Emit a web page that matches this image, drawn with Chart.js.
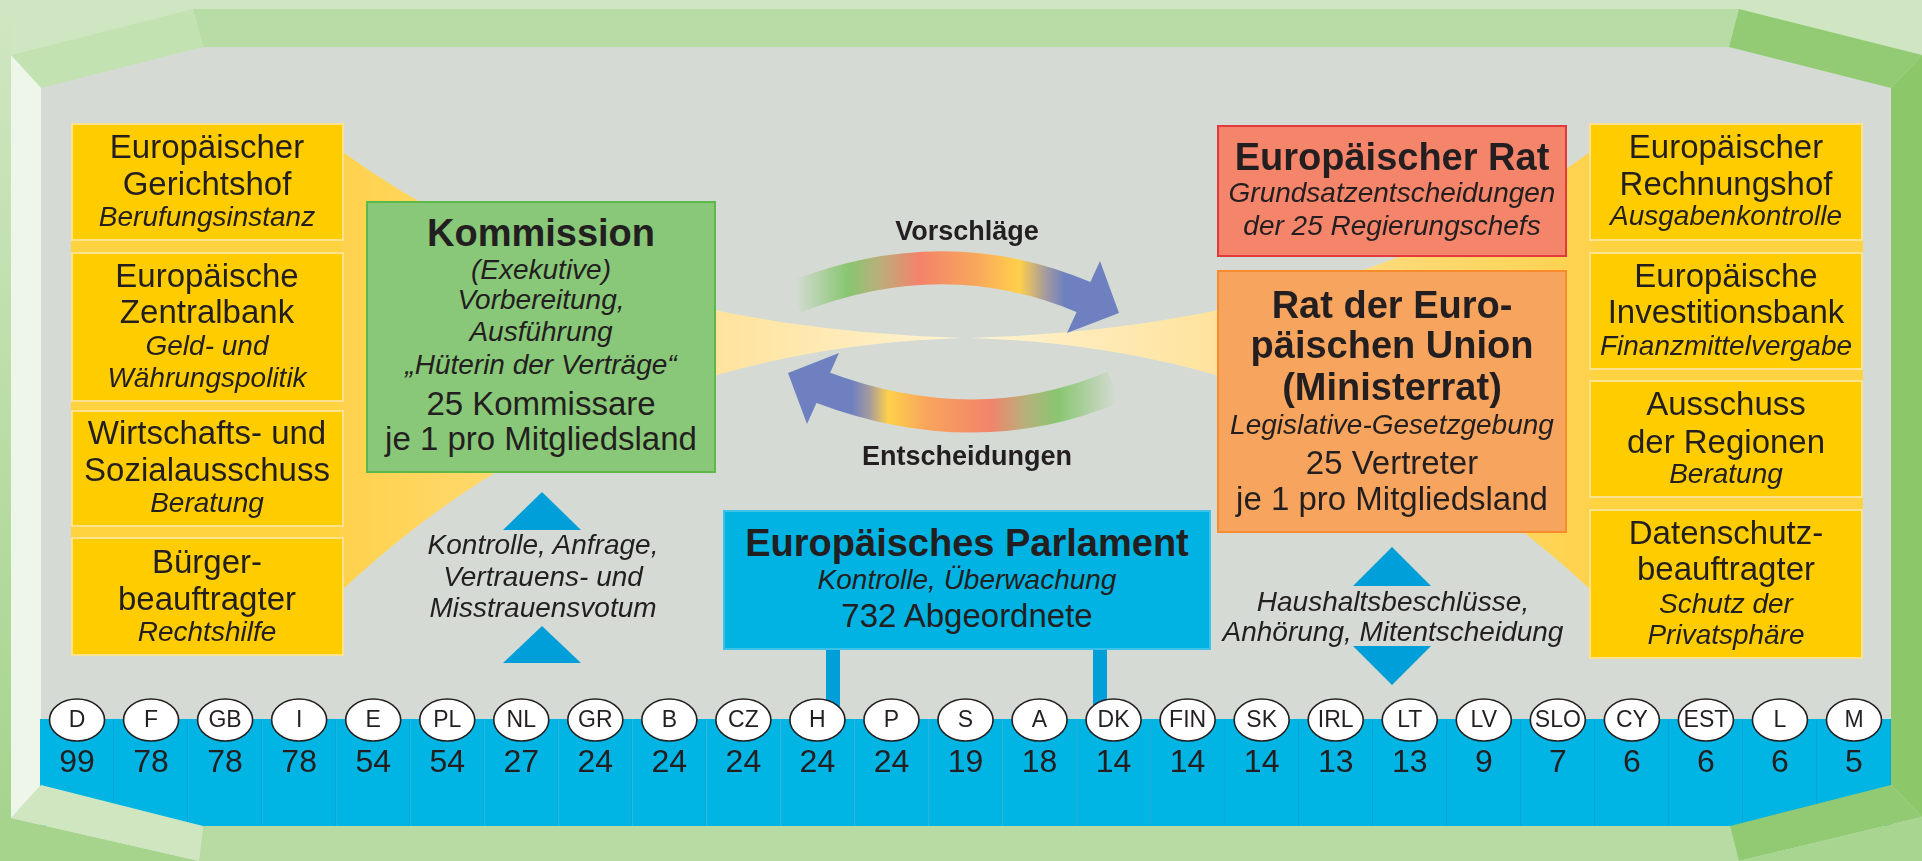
<!DOCTYPE html>
<html lang="de">
<head>
<meta charset="utf-8">
<title>Die Organe der Europäischen Union</title>
<script src="https://cdn.jsdelivr.net/npm/chart.js@4.4.1/dist/chart.umd.min.js"></script>
<style>
  html, body { margin: 0; padding: 0; background: #cfe6c2; overflow: hidden; }
  #wrap { position: relative; width: 1922px; height: 861px; font-family: "Liberation Sans", Arial, Helvetica, sans-serif; color: #231f20; }
  #c { position: absolute; left: 0; top: 0; }
  .box { position: absolute; box-sizing: border-box; }
  .t { position: absolute; white-space: nowrap; line-height: 1; transform: translate(-50%, -50%); }
  .r { font-size: 33px; }
  .i { font-size: 28px; font-style: italic; }
  .b { font-size: 38px; font-weight: bold; }
  .s { font-size: 27px; font-weight: bold; }
</style>
</head>
<body>
<div id="wrap">
  <canvas id="c" width="1922" height="861"></canvas>
</div>
<script>
// ---------- DATA ----------
const countries = ['D','F','GB','I','E','PL','NL','GR','B','CZ','H','P','S','A','DK','FIN','SK','IRL','LT','LV','SLO','CY','EST','L','M'];
const seats = [99,78,78,78,54,54,27,24,24,24,24,24,19,18,14,14,14,13,13,9,7,6,6,6,5];

// ---------- LAYOUT (boxes and text) ----------
const boxes = [
  {x:71, y:123, w:273, h:118, bg:'#ffcc00', bd:'#fde38f'},
  {x:71, y:252, w:273, h:150, bg:'#ffcc00', bd:'#fde38f'},
  {x:71, y:410, w:273, h:117, bg:'#ffcc00', bd:'#fde38f'},
  {x:71, y:537, w:273, h:119, bg:'#ffcc00', bd:'#fde38f'},
  {x:1589, y:123, w:274, h:118, bg:'#ffcc00', bd:'#fde38f'},
  {x:1589, y:252, w:274, h:118, bg:'#ffcc00', bd:'#fde38f'},
  {x:1589, y:380, w:274, h:118, bg:'#ffcc00', bd:'#fde38f'},
  {x:1589, y:509, w:274, h:150, bg:'#ffcc00', bd:'#fde38f'},
  {x:366, y:201, w:350, h:272, bg:'#89c878', bd:'#5cb849'},
  {x:1217, y:125, w:350, h:132, bg:'#f4846a', bd:'#e2393b'},
  {x:1217, y:270, w:350, h:263, bg:'#f7a45e', bd:'#f78b2d'},
  {x:723, y:510, w:488, h:140, bg:'#00b3e3', bd:'#3dc1ea'}
];

const texts = [
  [207,146,'Europäischer','r'],[207,183,'Gerichtshof','r'],[207,217,'Berufungsinstanz','i'],
  [207,275,'Europäische','r'],[207,311,'Zentralbank','r'],[207,346,'Geld- und','i'],[207,378,'Währungspolitik','i'],
  [207,432,'Wirtschafts- und','r'],[207,469,'Sozialausschuss','r'],[207,503,'Beratung','i'],
  [207,561,'Bürger-','r'],[207,598,'beauftragter','r'],[207,632,'Rechtshilfe','i'],

  [1726,146,'Europäischer','r'],[1726,183,'Rechnungshof','r'],[1726,216,'Ausgabenkontrolle','i'],
  [1726,275,'Europäische','r'],[1726,311,'Investitionsbank','r'],[1726,346,'Finanzmittelvergabe','i'],
  [1726,403,'Ausschuss','r'],[1726,441,'der Regionen','r'],[1726,474,'Beratung','i'],
  [1726,532,'Datenschutz-','r'],[1726,568,'beauftragter','r'],[1726,604,'Schutz der','i'],[1726,635,'Privatsphäre','i'],

  [541,233,'Kommission','b'],[541,270,'(Exekutive)','i'],[541,300,'Vorbereitung,','i'],[541,332,'Ausführung','i'],
  [541,365,'\u201EHüterin der Verträge\u201C','i'],[541,403,'25 Kommissare','r'],[541,438,'je 1 pro Mitgliedsland','r'],

  [1392,157,'Europäischer Rat','b'],[1392,193,'Grundsatzentscheidungen','i'],[1392,226,'der 25 Regierungschefs','i'],

  [1392,305,'Rat der Euro-','b'],[1392,345,'päischen Union','b'],[1392,387,'(Ministerrat)','b'],
  [1392,425,'Legislative-Gesetzgebung','i'],[1392,462,'25 Vertreter','r'],[1392,498,'je 1 pro Mitgliedsland','r'],

  [967,543,'Europäisches Parlament','b'],[967,580,'Kontrolle, Überwachung','i'],[967,615,'732 Abgeordnete','r'],

  [543,545,'Kontrolle, Anfrage,','i'],[543,577,'Vertrauens- und','i'],[543,608,'Misstrauensvotum','i'],
  [1393,602,'Haushaltsbeschlüsse,','i'],[1393,632,'Anhörung, Mitentscheidung','i'],

  [967,231,'Vorschläge','s'],[967,456,'Entscheidungen','s']
];

const wrap = document.getElementById('wrap');
boxes.forEach(b => {
  const d = document.createElement('div');
  d.className = 'box';
  d.style.cssText = `left:${b.x}px;top:${b.y}px;width:${b.w}px;height:${b.h}px;background:${b.bg};border:2px solid ${b.bd};`;
  wrap.appendChild(d);
});
texts.forEach(([x,y,s,c]) => {
  const d = document.createElement('div');
  d.className = 't ' + c;
  d.style.left = x + 'px';
  d.style.top = y + 'px';
  d.textContent = s;
  wrap.appendChild(d);
});

// ---------- DRAWING HELPERS ----------
function poly(ctx, pts, fill) {
  ctx.beginPath();
  ctx.moveTo(pts[0][0], pts[0][1]);
  for (let k = 1; k < pts.length; k++) ctx.lineTo(pts[k][0], pts[k][1]);
  ctx.closePath();
  ctx.fillStyle = fill;
  ctx.fill();
}

function fan(ctx, x0, yTop, yBot, cTop, cBot, xc, yc, xNear, xFar) {
  const g = ctx.createLinearGradient(xNear, 0, xFar, 0);
  g.addColorStop(0, '#ffd24d');
  g.addColorStop(0.6, '#ffe29c');
  g.addColorStop(1, '#fff3d2');
  ctx.beginPath();
  ctx.moveTo(x0, yTop);
  ctx.quadraticCurveTo(cTop[0], cTop[1], xc, yc);
  ctx.quadraticCurveTo(cBot[0], cBot[1], x0, yBot);
  ctx.closePath();
  ctx.fillStyle = g;
  ctx.fill();
}

function arrow(ctx, p0, c, p2, x0, x1, stops, head) {
  const g = ctx.createLinearGradient(x0, 0, x1, 0);
  stops.forEach(s => g.addColorStop(s[0], s[1]));
  ctx.save();
  ctx.lineWidth = 33;
  ctx.lineCap = 'butt';
  ctx.strokeStyle = g;
  ctx.beginPath();
  ctx.moveTo(p0[0], p0[1]);
  ctx.quadraticCurveTo(c[0], c[1], p2[0], p2[1]);
  ctx.stroke();
  ctx.restore();
  poly(ctx, head, '#6e80c0');
}

const backgroundPlugin = {
  id: 'background',
  beforeDraw(chart) {
    const ctx = chart.ctx;
    const W = chart.width, H = chart.height;
    ctx.save();
    ctx.fillStyle = '#d0e6c2';
    ctx.fillRect(0, 0, W, H);
    const lg = ctx.createLinearGradient(0, 0, 0, H);
    lg.addColorStop(0, '#d0e6c2');
    lg.addColorStop(1, '#a4d38b');
    ctx.fillStyle = lg;
    ctx.fillRect(0, 0, 11, H);

    ctx.fillStyle = '#d5dbd4';
    ctx.fillRect(41, 47, 1851, 779);

    poly(ctx, [[193,9],[1739,9],[1729,47],[203,47]], '#b8dca5');
    poly(ctx, [[11,55],[193,9],[203,47],[41,88]], '#c3e2b2');
    poly(ctx, [[11,55],[41,88],[41,785],[11,818]], '#eef6ea');
    poly(ctx, [[1739,9],[1922,55],[1891,88],[1729,47]], '#93cb74');
    poly(ctx, [[1891,88],[1922,55],[1922,817],[1891,785]], '#8cc76a');

    ctx.fillStyle = '#ffd23f';
    ctx.fillRect(71, 123, 273, 533);
    ctx.fillRect(1589, 123, 274, 536);
    fan(ctx, 340, 150, 592, [579,326], [598,349], 962, 338, 344, 962);
    fan(ctx, 1593, 150, 592, [1354,326], [1335,349], 971, 338, 1589, 971);

    arrow(ctx, [795,297], [945,238], [1086,298], 795, 1090, [
      [0,'rgba(136,198,112,0)'], [0.18,'#88c670'], [0.28,'#b7b07a'], [0.42,'#f3836b'],
      [0.61,'#f8a65c'], [0.76,'#ffd04a'], [0.85,'#a49aa0'], [0.915,'#6e80c0'], [1,'#6e80c0']
    ], [[1100,261],[1119,313],[1067,333]]);
    arrow(ctx, [821,387], [975,445], [1114,387], 822, 1117, [
      [0,'#6e80c0'], [0.1,'#6e80c0'], [0.16,'#a49aa0'], [0.225,'#ffd04a'], [0.35,'#f8a65c'],
      [0.57,'#f3836b'], [0.69,'#b7b07a'], [0.8,'#88c670'], [1,'rgba(136,198,112,0)']
    ], [[839,353],[788,373],[807,424]]);

    poly(ctx, [[503,530],[542,492],[581,530]], '#009fda');
    poly(ctx, [[503,663],[542,626],[581,663]], '#009fda');
    poly(ctx, [[1353,586],[1392,547],[1431,586]], '#009fda');
    poly(ctx, [[1353,646],[1431,646],[1392,685]], '#009fda');

    ctx.fillStyle = '#009fda';
    ctx.fillRect(826, 645, 14, 78);
    ctx.fillRect(1093, 645, 14, 78);
    ctx.restore();
  }
};

const countryPlugin = {
  id: 'countries',
  afterDatasetsDraw(chart) {
    const ctx = chart.ctx;
    const xs = chart.scales.x;
    const ds = chart.data.datasets[0].data;
    ctx.save();
    // lower frame pieces overlap the strip
    poly(ctx, [[203,826],[1730,826],[1739,861],[199,861]], '#b8dba4');
    poly(ctx, [[0,818],[11,818],[199,861],[0,861]], '#a6d48d');
    poly(ctx, [[11,818],[41,785],[203,826],[199,861]], '#cfe6c1');
    poly(ctx, [[1730,826],[1891,785],[1922,817],[1739,861]], '#92c973');
    poly(ctx, [[1739,861],[1922,817],[1922,861]], '#a8d590');

    chart.data.labels.forEach((lab, i) => {
      const x = xs.getPixelForValue(i);
      ctx.beginPath();
      ctx.ellipse(x, 720, 27.5, 21, 0, 0, Math.PI * 2);
      ctx.fillStyle = '#ffffff';
      ctx.fill();
      ctx.lineWidth = 1.6;
      ctx.strokeStyle = '#231f20';
      ctx.stroke();
      ctx.fillStyle = '#231f20';
      ctx.textAlign = 'center';
      ctx.textBaseline = 'middle';
      ctx.font = '23px "Liberation Sans", Arial, sans-serif';
      ctx.fillText(lab, x, 721);
      ctx.font = '32px "Liberation Sans", Arial, sans-serif';
      ctx.fillText(String(ds[i]), x, 763);
    });
    ctx.restore();
  }
};

new Chart(document.getElementById('c').getContext('2d'), {
  type: 'bar',
  data: {
    labels: countries,
    datasets: [{
      label: 'Abgeordnete',
      data: seats,
      backgroundColor: '#00b4e4',
      borderColor: '#0e9fd1',
      borderWidth: {left: 0, right: 1, top: 0, bottom: 0},
      categoryPercentage: 1,
      barPercentage: 1
    }]
  },
  options: {
    responsive: false,
    devicePixelRatio: 1,
    animation: false,
    events: [],
    layout: {padding: {left: 40, right: 31, top: 719, bottom: 35}},
    scales: {
      x: {display: false},
      y: {display: false, min: 0, max: 1}
    },
    plugins: {legend: {display: false}, tooltip: {enabled: false}}
  },
  plugins: [backgroundPlugin, countryPlugin]
});
</script>
</body>
</html>
